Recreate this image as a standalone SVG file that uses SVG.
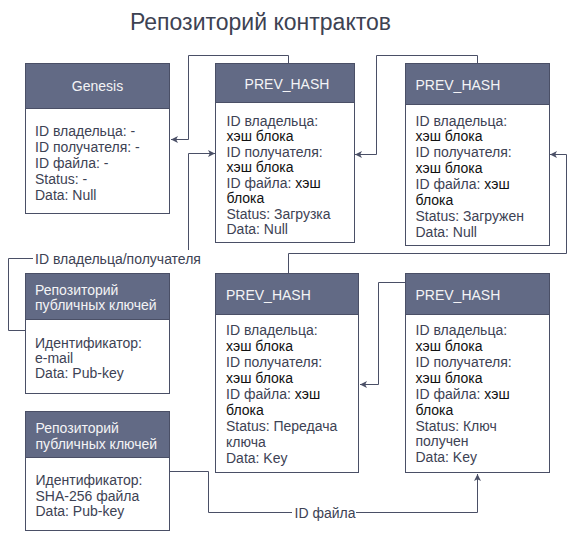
<svg xmlns="http://www.w3.org/2000/svg" width="577" height="546" viewBox="0 0 577 546">
<defs>
<style>
.box{fill:#ffffff;stroke:#4a4f66;stroke-width:1}
.hdr{fill:#626a85;stroke:#4a4f66;stroke-width:1}
.ht{font-family:"Liberation Sans",Arial,sans-serif;font-size:14px;fill:#f4f4f6}
.bt{font-family:"Liberation Sans",Arial,sans-serif;font-size:14px;fill:#3d4254}
.bk{fill:#111111}
.title{font-family:"Liberation Sans",Arial,sans-serif;font-size:23px;fill:#3d4252}
.edge{fill:none;stroke:#4a4f66;stroke-width:1}
.lbl{font-family:"Liberation Sans",Arial,sans-serif;font-size:14px;fill:#3d4254}
</style>
<marker id="arr" markerUnits="userSpaceOnUse" markerWidth="8" markerHeight="8" refX="7" refY="3.5" orient="auto">
<path d="M0,0 L7,3.5 L0,7 L1.8,3.5 z" fill="#4a4f66"/>
</marker>
</defs>
<rect width="577" height="546" fill="#ffffff"/>
<text class="title" x="260.5" y="30" text-anchor="middle">Репозиторий контрактов</text>

<g id="connectors">
<path class="edge" d="M288.5,63 V55.5 H188.5 V139.5 H171" marker-end="url(#arr)"/>
<path class="edge" d="M25,330.5 H8.5 V258.5 H188.5 V153.5 H215" marker-end="url(#arr)"/>
<path class="edge" d="M477.5,63 V55.5 H376.5 V154.5 H355" marker-end="url(#arr)"/>
<path class="edge" d="M288.5,273 V253.5 H566.5 V154.5 H550" marker-end="url(#arr)"/>
<path class="edge" d="M477.5,282.5 H378.5 V384.5 H360" marker-end="url(#arr)"/>
<path class="edge" d="M170,471.5 H208.5 V512.5 H477.5 V474" marker-end="url(#arr)"/>
<rect x="33" y="250" width="170" height="17" fill="#ffffff"/>
<text class="lbl" x="35" y="263.5">ID владельца/получателя</text>
<rect x="292" y="504" width="64" height="17" fill="#ffffff"/>
<text class="lbl" x="294.5" y="517.5">ID файла</text>
</g>

<g id="genesis">
<rect class="box" x="25.5" y="63.5" width="144" height="150"/>
<rect class="hdr" x="25.5" y="63.5" width="144" height="45"/>
<text class="ht" x="97.5" y="91" text-anchor="middle">Genesis</text>
<text class="bt" x="35" y="135.5">ID владельца: -</text>
<text class="bt" x="35" y="151.5">ID получателя: -</text>
<text class="bt" x="35" y="167.5">ID файла: -</text>
<text class="bt" x="35" y="183.5">Status: -</text>
<text class="bt" x="35" y="199.5">Data: Null</text>
</g>

<g id="block1">
<rect class="box" x="215.5" y="63.5" width="139" height="179"/>
<rect class="hdr" x="215.5" y="63.5" width="139" height="39"/>
<text class="ht" x="287" y="88.5" text-anchor="middle">PREV_HASH</text>
<text class="bt" x="226.5" y="125.5">ID владельца:</text>
<text class="bt bk" x="226.5" y="141">хэш блока</text>
<text class="bt" x="226.5" y="156.5">ID получателя:</text>
<text class="bt bk" x="226.5" y="172">хэш блока</text>
<text class="bt" x="226.5" y="187.5">ID файла: <tspan class="bk">хэш</tspan></text>
<text class="bt bk" x="226.5" y="203">блока</text>
<text class="bt" x="226.5" y="218.5">Status: Загрузка</text>
<text class="bt" x="226.5" y="234">Data: Null</text>
</g>

<g id="block2">
<rect class="box" x="405.5" y="63.5" width="144" height="182"/>
<rect class="hdr" x="405.5" y="63.5" width="144" height="41"/>
<text class="ht" x="415.5" y="89.5">PREV_HASH</text>
<text class="bt" x="415.5" y="125.5">ID владельца:</text>
<text class="bt bk" x="415.5" y="141.4">хэш блока</text>
<text class="bt" x="415.5" y="157.2">ID получателя:</text>
<text class="bt bk" x="415.5" y="173.1">хэш блока</text>
<text class="bt" x="415.5" y="189">ID файла: <tspan class="bk">хэш</tspan></text>
<text class="bt bk" x="415.5" y="204.8">блока</text>
<text class="bt" x="415.5" y="220.7">Status: Загружен</text>
<text class="bt" x="415.5" y="236.5">Data: Null</text>
</g>

<g id="repo1">
<rect class="box" x="25.5" y="273.5" width="144" height="120"/>
<rect class="hdr" x="25.5" y="273.5" width="144" height="46"/>
<text class="ht" x="35" y="294.5">Репозиторий</text>
<text class="ht" x="35" y="309.5">публичных ключей</text>
<text class="bt" x="35" y="347.5">Идентификатор:</text>
<text class="bt" x="35" y="362.5">e-mail</text>
<text class="bt" x="35" y="377.5">Data: Pub-key</text>
</g>

<g id="block3">
<rect class="box" x="215.5" y="273.5" width="143" height="199"/>
<rect class="hdr" x="215.5" y="273.5" width="143" height="41"/>
<text class="ht" x="226" y="299.5">PREV_HASH</text>
<text class="bt" x="226" y="335">ID владельца:</text>
<text class="bt bk" x="226" y="351">хэш блока</text>
<text class="bt" x="226" y="366.9">ID получателя:</text>
<text class="bt bk" x="226" y="382.9">хэш блока</text>
<text class="bt" x="226" y="398.8">ID файла: <tspan class="bk">хэш</tspan></text>
<text class="bt bk" x="226" y="414.8">блока</text>
<text class="bt" x="226" y="430.7">Status: Передача</text>
<text class="bt" x="226" y="446.7">ключа</text>
<text class="bt" x="226" y="462.7">Data: Key</text>
</g>

<g id="block4">
<rect class="box" x="405.5" y="273.5" width="144" height="199"/>
<rect class="hdr" x="405.5" y="273.5" width="144" height="41"/>
<text class="ht" x="415.5" y="299.5">PREV_HASH</text>
<text class="bt" x="415.5" y="335">ID владельца:</text>
<text class="bt bk" x="415.5" y="350.9">хэш блока</text>
<text class="bt" x="415.5" y="366.8">ID получателя:</text>
<text class="bt bk" x="415.5" y="382.8">хэш блока</text>
<text class="bt" x="415.5" y="398.7">ID файла: <tspan class="bk">хэш</tspan></text>
<text class="bt bk" x="415.5" y="414.6">блока</text>
<text class="bt" x="415.5" y="430.5">Status: Ключ</text>
<text class="bt" x="415.5" y="446.4">получен</text>
<text class="bt" x="415.5" y="462.3">Data: Key</text>
</g>

<g id="repo2">
<rect class="box" x="25.5" y="411.5" width="144" height="119"/>
<rect class="hdr" x="25.5" y="411.5" width="144" height="46"/>
<text class="ht" x="35.5" y="432.5">Репозиторий</text>
<text class="ht" x="35.5" y="448.5">публичных ключей</text>
<text class="bt" x="35.5" y="485">Идентификатор:</text>
<text class="bt" x="35.5" y="500.5">SHA-256 файла</text>
<text class="bt" x="35.5" y="516">Data: Pub-key</text>
</g>
</svg>
